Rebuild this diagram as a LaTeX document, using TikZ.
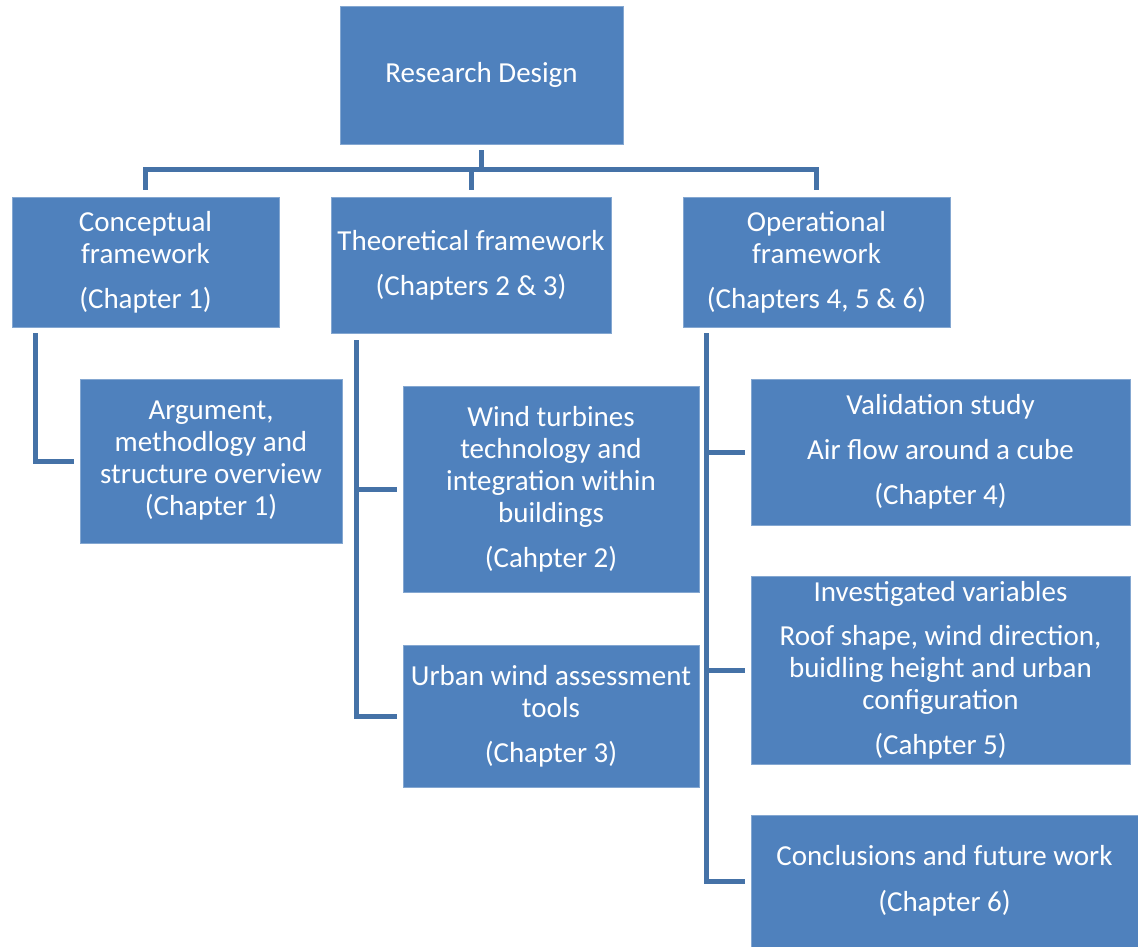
\documentclass[tikz,border=0pt]{standalone}
\usepackage{fontspec}
\setmainfont{Carlito}
\definecolor{boxblue}{HTML}{4F81BD}
\definecolor{lineblue}{HTML}{4572A7}
\tikzset{
  box/.style={rectangle, fill=boxblue, draw=boxblue!70!white, line width=0.6pt, text=white, align=center, inner sep=0pt,
    font=\fontsize{29}{32}\selectfont},
  conn/.style={draw=lineblue, line width=5pt, line join=miter}
}
\begin{document}
\begin{tikzpicture}[x=1pt,y=-1pt]
\useasboundingbox (0,0) rectangle (1138,947);
\node[box, minimum width=283pt, minimum height=138pt] (rd) at (481.5,75) {Research Design};
\node[box, minimum width=267pt, minimum height=130pt] (cf) at (145.5,262) {Conceptual\\framework\\[13pt](Chapter 1)};
\node[box, minimum width=280pt, minimum height=136pt] (tf) at (471,265) {Theoretical framework\\[13pt](Chapters 2 \& 3)};
\node[box, minimum width=267pt, minimum height=130pt] (of) at (816.5,262) {Operational\\framework\\[13pt](Chapters 4, 5 \& 6)};
\node[box, minimum width=262pt, minimum height=164pt] (arg) at (211,461) {Argument,\\methodlogy and\\structure overview\\(Chapter 1)};
\node[box, minimum width=296pt, minimum height=206pt] (wt) at (551,489) {Wind turbines\\technology and\\integration within\\buildings\\[13pt](Cahpter 2)};
\node[box, minimum width=296pt, minimum height=142pt] (uw) at (551,716) {Urban wind assessment\\tools\\[13pt](Chapter 3)};
\node[box, minimum width=379pt, minimum height=146pt] (vs) at (940.5,452) {Validation study\\[13pt]Air flow around a cube\\[13pt](Chapter 4)};
\node[box, minimum width=379pt, minimum height=188pt] (iv) at (940.5,670) {Investigated variables\\[12pt]Roof shape, wind direction,\\buidling height and urban\\configuration\\[13pt](Cahpter 5)};
\node[box, minimum width=387pt, minimum height=132pt] (cw) at (944.5,881) {Conclusions and future work\\[14pt](Chapter 6)};
\coordinate (bus) at (0,170);
% top bus
\draw[conn] ([yshift=-6pt]rd.south) -- (rd.south |- bus);
\draw[conn] ([yshift=7pt]cf.north) -- (cf.north |- bus) -- (of.north |- bus) -- ([yshift=7pt]of.north);
\draw[conn] (tf.north |- bus) -- ([yshift=7pt]tf.north);
% conceptual branch
\coordinate (cx) at ([xshift=24pt]cf.south west);
\draw[conn] ([yshift=-6pt]cx) -- (cx |- arg.west) -- ([xshift=-6pt]arg.west);
% theoretical branch
\coordinate (tx) at ([xshift=26pt]tf.south west);
\draw[conn] ([yshift=-7pt]tx) -- (tx |- uw.west) -- ([xshift=-6pt]uw.west);
\draw[conn] (tx |- wt.west) -- ([xshift=-6pt]wt.west);
% operational branch
\coordinate (ox) at ([xshift=24pt]of.south west);
\draw[conn] ([yshift=-6pt]ox) -- (ox |- cw.west) -- ([xshift=-6pt]cw.west);
\draw[conn] (ox |- vs.west) -- ([xshift=-6pt]vs.west);
\draw[conn] (ox |- iv.west) -- ([xshift=-6pt]iv.west);
\end{tikzpicture}
\end{document}
